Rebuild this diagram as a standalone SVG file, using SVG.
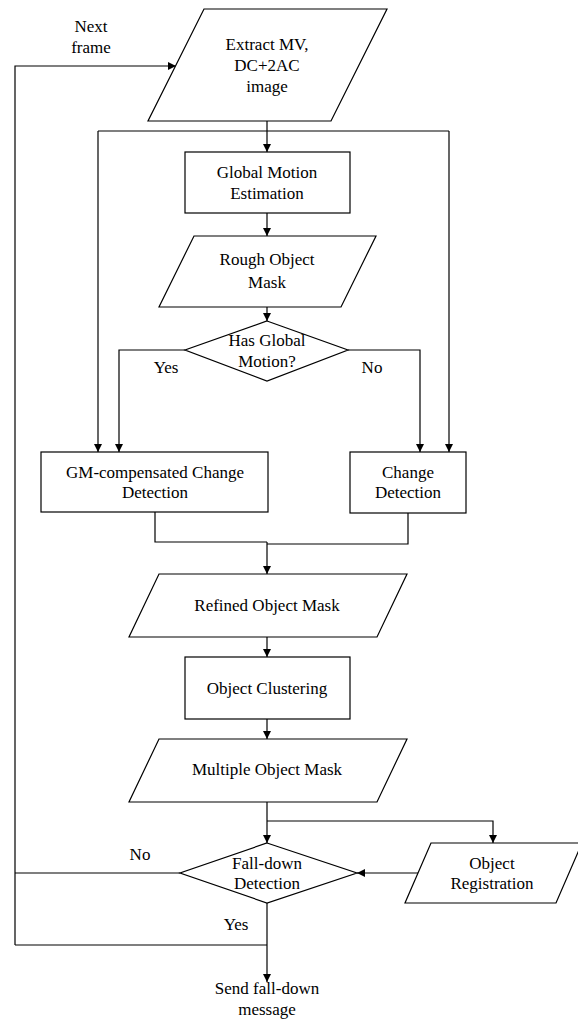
<svg xmlns="http://www.w3.org/2000/svg" width="578" height="1019" viewBox="0 0 578 1019">
<defs>
<marker id="ah" viewBox="0 0 10 10" refX="10" refY="5" markerWidth="8" markerHeight="8" markerUnits="userSpaceOnUse" orient="auto">
<path d="M0,0 L10,5 L0,10 Z" fill="#000"/>
</marker>
<style>
.n{fill:#fff;stroke:#000;stroke-width:1.2}
.c{fill:none;stroke:#000;stroke-width:1.2}
.a{marker-end:url(#ah)}
text{font-family:"Liberation Serif","Times New Roman",serif;font-size:17px;fill:#000;text-anchor:middle}
</style>
</defs>
<rect width="578" height="1019" fill="#fff"/>
<g id="connectors">
<polyline class="c a" points="15,945 15,66 176,66"/>
<line class="c a" x1="267" y1="121" x2="267" y2="152"/>
<polyline class="c a" points="98,131 98,452"/>
<line class="c" x1="98" y1="131" x2="449" y2="131"/>
<polyline class="c a" points="449,131 449,452"/>
<line class="c a" x1="267" y1="213" x2="267" y2="236"/>
<line class="c a" x1="267" y1="307" x2="267" y2="321"/>
<polyline class="c a" points="185,350 119,350 119,452"/>
<polyline class="c a" points="348,350 420,350 420,452"/>
<polyline class="c" points="155,512 155,542 267,542"/>
<polyline class="c" points="408,513 408,544 267,544"/>
<line class="c a" x1="267" y1="542" x2="267" y2="574"/>
<line class="c a" x1="267" y1="637" x2="267" y2="657"/>
<line class="c a" x1="267" y1="719" x2="267" y2="739"/>
<line class="c a" x1="267" y1="802" x2="267" y2="843"/>
<polyline class="c a" points="267,821 493,821 493,843"/>
<line class="c a" x1="418" y1="873" x2="357" y2="873"/>
<line class="c" x1="180" y1="873" x2="15" y2="873"/>
<line class="c a" x1="267" y1="903" x2="267" y2="982"/>
<line class="c" x1="15" y1="945" x2="267" y2="945"/>
</g>
<g id="next-frame-label"><text x="91" y="32">Next</text><text x="91" y="53">frame</text></g>
<g id="extract">
<polygon class="n" points="204,9 387,9 331,121 148,121"/>
<text x="267" y="50">Extract MV,</text><text x="267" y="71">DC+2AC</text><text x="267" y="92">image</text>
</g>
<g id="gme">
<rect class="n" x="185" y="152" width="165" height="61"/>
<text x="267" y="178">Global Motion</text><text x="267" y="199">Estimation</text>
</g>
<g id="rough">
<polygon class="n" points="194,236 376,236 341,307 159,307"/>
<text x="267" y="265">Rough Object</text><text x="267" y="288">Mask</text>
</g>
<g id="has-gm">
<polygon class="n" points="267,321 348,350 267,381 185,350"/>
<text x="267" y="346">Has Global</text><text x="267" y="367">Motion?</text>
</g>
<g id="yes-label"><text x="166" y="373">Yes</text></g>
<g id="no-label"><text x="372" y="373">No</text></g>
<g id="gmcd">
<rect class="n" x="41" y="452" width="227" height="60"/>
<text x="155" y="478">GM-compensated Change</text><text x="155" y="498">Detection</text>
</g>
<g id="cd">
<rect class="n" x="350" y="452" width="116" height="61"/>
<text x="408" y="478">Change</text><text x="408" y="498">Detection</text>
</g>
<g id="refined">
<polygon class="n" points="159,574 407,574 377,637 129,637"/>
<text x="267" y="611">Refined Object Mask</text>
</g>
<g id="clustering">
<rect class="n" x="185" y="657" width="165" height="62"/>
<text x="267" y="694">Object Clustering</text>
</g>
<g id="multiple">
<polygon class="n" points="159,739 407,739 377,802 129,802"/>
<text x="267" y="775">Multiple Object Mask</text>
</g>
<g id="falldown">
<polygon class="n" points="267,843 357,873 267,903 180,873"/>
<text x="267" y="869">Fall-down</text><text x="267" y="889">Detection</text>
</g>
<g id="registration">
<polygon class="n" points="431,843 582,843 556,903 405,903"/>
<text x="492" y="869">Object</text><text x="492" y="889">Registration</text>
</g>
<g id="no2-label"><text x="140" y="860">No</text></g>
<g id="yes2-label"><text x="236" y="930">Yes</text></g>
<g id="send">
<text x="267" y="994">Send fall-down</text><text x="267" y="1015">message</text>
</g>
</svg>
